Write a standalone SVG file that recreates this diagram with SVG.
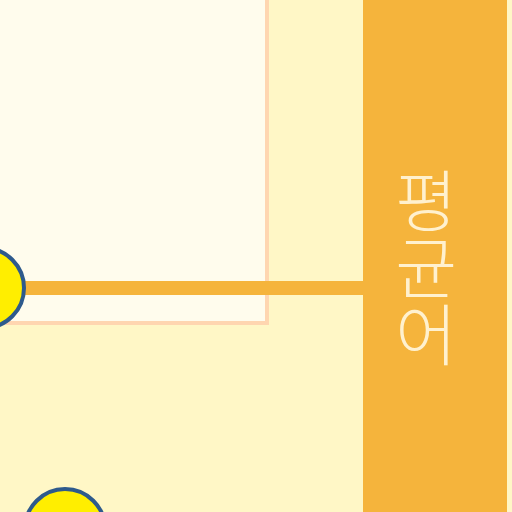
<svg xmlns="http://www.w3.org/2000/svg" width="512" height="512" viewBox="0 0 512 512">
<style>
.node{fill:#FFEE00;stroke:#2E5A8C;stroke-width:4}
.conn{stroke:#F5B43C;stroke-width:14;fill:none}
.lbl{font-family:"Noto Sans CJK KR","Noto Sans",sans-serif;font-size:67px;font-weight:300;fill:#FFF1CF;writing-mode:vertical-rl;text-orientation:upright}
</style>
<rect x="0" y="0" width="512" height="512" fill="#FFF7C6"/>
<g id="panel">
<rect x="-10" y="-10" width="277" height="333" fill="#FFFCED" stroke="#FFD6B0" stroke-width="4"/>
</g>
<g id="connectors">
<line class="conn" x1="0" y1="288" x2="365" y2="288"/>
</g>
<g id="band">
<rect x="363" y="-5" width="144" height="522" fill="#F5B43C"/>
<text class="lbl" x="426" y="167">평균어</text>
</g>
<g id="node1"><circle class="node" cx="-16" cy="288" r="40"/></g>
<g id="node2"><circle class="node" cx="65" cy="529" r="40"/></g>
</svg>
